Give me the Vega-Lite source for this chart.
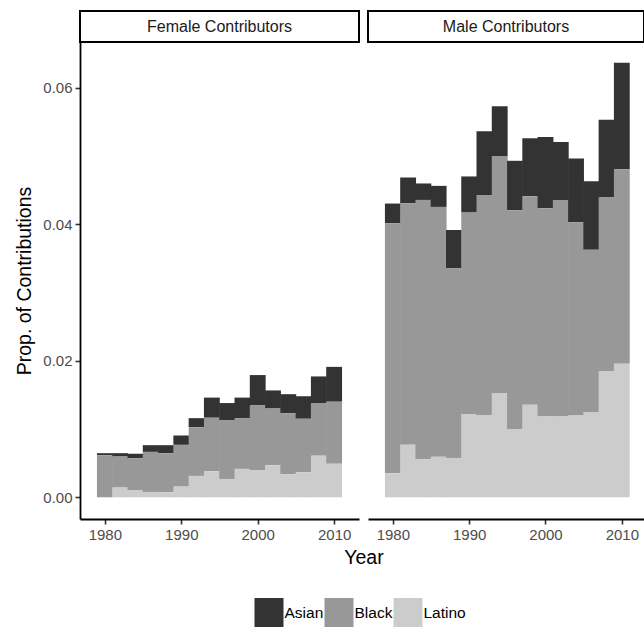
{
  "$schema": "https://vega.github.io/schema/vega-lite/v6.json",
  "padding": {"left": 14, "top": 10, "right": 0, "bottom": 0},
  "config": {
    "font": "Liberation Sans",
    "view": {"stroke": null},
    "concat": {"spacing": 9},
    "axis": {"grid": false, "domainColor": "#000000", "domainWidth": 1.8, "tickColor": "#333333", "tickWidth": 1.6, "tickSize": 5, "labelFontSize": 15, "labelColor": "#4D4D4D", "labelPadding": 3, "titleFontSize": 19.5, "titleFontWeight": "normal", "titleColor": "#000000"}
  },
  "datasets": {
    "strips": [{"panel": "Female Contributors"}, {"panel": "Male Contributors"}],
    "contrib": [
      {"gender": "Female Contributors", "year": 1980, "race": "Asian", "value": 0.0003},
      {"gender": "Female Contributors", "year": 1980, "race": "Black", "value": 0.00616},
      {"gender": "Female Contributors", "year": 1980, "race": "Latino", "value": 0.0},
      {"gender": "Female Contributors", "year": 1982, "race": "Asian", "value": 0.00049},
      {"gender": "Female Contributors", "year": 1982, "race": "Black", "value": 0.00455},
      {"gender": "Female Contributors", "year": 1982, "race": "Latino", "value": 0.00142},
      {"gender": "Female Contributors", "year": 1984, "race": "Asian", "value": 0.00064},
      {"gender": "Female Contributors", "year": 1984, "race": "Black", "value": 0.00474},
      {"gender": "Female Contributors", "year": 1984, "race": "Latino", "value": 0.00098},
      {"gender": "Female Contributors", "year": 1986, "race": "Asian", "value": 0.00098},
      {"gender": "Female Contributors", "year": 1986, "race": "Black", "value": 0.00587},
      {"gender": "Female Contributors", "year": 1986, "race": "Latino", "value": 0.00078},
      {"gender": "Female Contributors", "year": 1988, "race": "Asian", "value": 0.00117},
      {"gender": "Female Contributors", "year": 1988, "race": "Black", "value": 0.00573},
      {"gender": "Female Contributors", "year": 1988, "race": "Latino", "value": 0.00073},
      {"gender": "Female Contributors", "year": 1990, "race": "Asian", "value": 0.00137},
      {"gender": "Female Contributors", "year": 1990, "race": "Black", "value": 0.00611},
      {"gender": "Female Contributors", "year": 1990, "race": "Latino", "value": 0.00157},
      {"gender": "Female Contributors", "year": 1992, "race": "Asian", "value": 0.00132},
      {"gender": "Female Contributors", "year": 1992, "race": "Black", "value": 0.00714},
      {"gender": "Female Contributors", "year": 1992, "race": "Latino", "value": 0.00313},
      {"gender": "Female Contributors", "year": 1994, "race": "Asian", "value": 0.00295},
      {"gender": "Female Contributors", "year": 1994, "race": "Black", "value": 0.00785},
      {"gender": "Female Contributors", "year": 1994, "race": "Latino", "value": 0.0038},
      {"gender": "Female Contributors", "year": 1996, "race": "Asian", "value": 0.00255},
      {"gender": "Female Contributors", "year": 1996, "race": "Black", "value": 0.00856},
      {"gender": "Female Contributors", "year": 1996, "race": "Latino", "value": 0.00269},
      {"gender": "Female Contributors", "year": 1998, "race": "Asian", "value": 0.003},
      {"gender": "Female Contributors", "year": 1998, "race": "Black", "value": 0.00744},
      {"gender": "Female Contributors", "year": 1998, "race": "Latino", "value": 0.00416},
      {"gender": "Female Contributors", "year": 2000, "race": "Asian", "value": 0.00445},
      {"gender": "Female Contributors", "year": 2000, "race": "Black", "value": 0.00945},
      {"gender": "Female Contributors", "year": 2000, "race": "Latino", "value": 0.004},
      {"gender": "Female Contributors", "year": 2002, "race": "Asian", "value": 0.00265},
      {"gender": "Female Contributors", "year": 2002, "race": "Black", "value": 0.0083},
      {"gender": "Female Contributors", "year": 2002, "race": "Latino", "value": 0.0047},
      {"gender": "Female Contributors", "year": 2004, "race": "Asian", "value": 0.0028},
      {"gender": "Female Contributors", "year": 2004, "race": "Black", "value": 0.00893},
      {"gender": "Female Contributors", "year": 2004, "race": "Latino", "value": 0.00337},
      {"gender": "Female Contributors", "year": 2006, "race": "Asian", "value": 0.0033},
      {"gender": "Female Contributors", "year": 2006, "race": "Black", "value": 0.00783},
      {"gender": "Female Contributors", "year": 2006, "race": "Latino", "value": 0.00367},
      {"gender": "Female Contributors", "year": 2008, "race": "Asian", "value": 0.0039},
      {"gender": "Female Contributors", "year": 2008, "race": "Black", "value": 0.0077},
      {"gender": "Female Contributors", "year": 2008, "race": "Latino", "value": 0.0061},
      {"gender": "Female Contributors", "year": 2010, "race": "Asian", "value": 0.0051},
      {"gender": "Female Contributors", "year": 2010, "race": "Black", "value": 0.0091},
      {"gender": "Female Contributors", "year": 2010, "race": "Latino", "value": 0.0049},
      {"gender": "Male Contributors", "year": 1980, "race": "Asian", "value": 0.00289},
      {"gender": "Male Contributors", "year": 1980, "race": "Black", "value": 0.03661},
      {"gender": "Male Contributors", "year": 1980, "race": "Latino", "value": 0.00352},
      {"gender": "Male Contributors", "year": 1982, "race": "Asian", "value": 0.00377},
      {"gender": "Male Contributors", "year": 1982, "race": "Black", "value": 0.03539},
      {"gender": "Male Contributors", "year": 1982, "race": "Latino", "value": 0.00768},
      {"gender": "Male Contributors", "year": 1984, "race": "Asian", "value": 0.00241},
      {"gender": "Male Contributors", "year": 1984, "race": "Black", "value": 0.03797},
      {"gender": "Male Contributors", "year": 1984, "race": "Latino", "value": 0.00558},
      {"gender": "Male Contributors", "year": 1986, "race": "Asian", "value": 0.00308},
      {"gender": "Male Contributors", "year": 1986, "race": "Black", "value": 0.03661},
      {"gender": "Male Contributors", "year": 1986, "race": "Latino", "value": 0.00592},
      {"gender": "Male Contributors", "year": 1988, "race": "Asian", "value": 0.00563},
      {"gender": "Male Contributors", "year": 1988, "race": "Black", "value": 0.02775},
      {"gender": "Male Contributors", "year": 1988, "race": "Latino", "value": 0.00577},
      {"gender": "Male Contributors", "year": 1990, "race": "Asian", "value": 0.00529},
      {"gender": "Male Contributors", "year": 1990, "race": "Black", "value": 0.02951},
      {"gender": "Male Contributors", "year": 1990, "race": "Latino", "value": 0.01219},
      {"gender": "Male Contributors", "year": 1992, "race": "Asian", "value": 0.00931},
      {"gender": "Male Contributors", "year": 1992, "race": "Black", "value": 0.03231},
      {"gender": "Male Contributors", "year": 1992, "race": "Latino", "value": 0.01198},
      {"gender": "Male Contributors", "year": 1994, "race": "Asian", "value": 0.0073},
      {"gender": "Male Contributors", "year": 1994, "race": "Black", "value": 0.0347},
      {"gender": "Male Contributors", "year": 1994, "race": "Latino", "value": 0.01527},
      {"gender": "Male Contributors", "year": 1996, "race": "Asian", "value": 0.00724},
      {"gender": "Male Contributors", "year": 1996, "race": "Black", "value": 0.03205},
      {"gender": "Male Contributors", "year": 1996, "race": "Latino", "value": 0.00999},
      {"gender": "Male Contributors", "year": 1998, "race": "Asian", "value": 0.00847},
      {"gender": "Male Contributors", "year": 1998, "race": "Black", "value": 0.03055},
      {"gender": "Male Contributors", "year": 1998, "race": "Latino", "value": 0.01355},
      {"gender": "Male Contributors", "year": 2000, "race": "Asian", "value": 0.01043},
      {"gender": "Male Contributors", "year": 2000, "race": "Black", "value": 0.03049},
      {"gender": "Male Contributors", "year": 2000, "race": "Latino", "value": 0.01184},
      {"gender": "Male Contributors", "year": 2002, "race": "Asian", "value": 0.00848},
      {"gender": "Male Contributors", "year": 2002, "race": "Black", "value": 0.03171},
      {"gender": "Male Contributors", "year": 2002, "race": "Latino", "value": 0.01184},
      {"gender": "Male Contributors", "year": 2004, "race": "Asian", "value": 0.00935},
      {"gender": "Male Contributors", "year": 2004, "race": "Black", "value": 0.0283},
      {"gender": "Male Contributors", "year": 2004, "race": "Latino", "value": 0.01198},
      {"gender": "Male Contributors", "year": 2006, "race": "Asian", "value": 0.01006},
      {"gender": "Male Contributors", "year": 2006, "race": "Black", "value": 0.02376},
      {"gender": "Male Contributors", "year": 2006, "race": "Latino", "value": 0.01248},
      {"gender": "Male Contributors", "year": 2008, "race": "Asian", "value": 0.01139},
      {"gender": "Male Contributors", "year": 2008, "race": "Black", "value": 0.02547},
      {"gender": "Male Contributors", "year": 2008, "race": "Latino", "value": 0.01844},
      {"gender": "Male Contributors", "year": 2010, "race": "Asian", "value": 0.01557},
      {"gender": "Male Contributors", "year": 2010, "race": "Black", "value": 0.02849},
      {"gender": "Male Contributors", "year": 2010, "race": "Latino", "value": 0.01957}
    ]
  },
  "columns": 2,
  "align": "each",
  "bounds": "flush",
  "spacing": {"row": 0, "column": 9},
  "concat": [
    {
      "data": {"name": "strips"},
      "transform": [{"filter": "datum.panel === 'Female Contributors'"}],
      "width": 279,
      "height": 31,
      "view": {"stroke": "#000000", "strokeWidth": 2, "fill": "#FFFFFF"},
      "mark": {"type": "text", "fontSize": 16, "color": "#1A1A1A"},
      "encoding": {"text": {"field": "panel"}}
    },
    {
      "data": {"name": "strips"},
      "transform": [{"filter": "datum.panel === 'Male Contributors'"}],
      "width": 276,
      "height": 31,
      "view": {"stroke": "#000000", "strokeWidth": 2, "fill": "#FFFFFF"},
      "mark": {"type": "text", "fontSize": 16, "color": "#1A1A1A"},
      "encoding": {"text": {"field": "panel"}}
    },
    {
      "data": {"name": "contrib"},
      "transform": [{"filter": "datum.gender === 'Female Contributors'"}],
      "width": 279,
      "height": 477,
      "mark": {"type": "bar", "width": 15.85},
      "encoding": {
        "x": {"field": "year", "type": "quantitative", "scale": {"domain": [1977.4, 2012.6], "nice": false, "zero": false},
              "axis": {"values": [1980, 1990, 2000, 2010], "format": "d", "title": "Year", "titleX": 283.5, "titlePadding": 6}},
        "y": {"field": "value", "type": "quantitative", "stack": "zero", "scale": {"domain": [-0.00318, 0.06668], "nice": false, "zero": false},
              "axis": {"values": [0, 0.02, 0.04, 0.06], "format": ".2f", "title": "Prop. of Contributions", "titlePadding": 8}},
        "color": {"field": "race", "type": "nominal", "scale": {"domain": ["Asian", "Black", "Latino"], "range": ["#333333", "#989898", "#CCCCCC"]},
                  "legend": {"orient": "none", "legendX": 174.5, "legendY": 587, "direction": "horizontal", "title": null, "symbolType": "square", "symbolSize": 841, "symbolStrokeWidth": 0, "symbolOpacity": 1, "labelFontSize": 15.5, "labelColor": "#000000", "labelOffset": 1, "columnPadding": 1, "padding": 0}},
        "order": {"field": "race", "sort": "descending"}
      }
    },
    {
      "data": {"name": "contrib"},
      "transform": [{"filter": "datum.gender === 'Male Contributors'"}],
      "width": 276,
      "height": 477,
      "mark": {"type": "bar", "width": 15.85},
      "encoding": {
        "x": {"field": "year", "type": "quantitative", "scale": {"domain": [1977.4, 2012.25], "nice": false, "zero": false},
              "axis": {"values": [1980, 1990, 2000, 2010], "format": "d", "title": null}},
        "y": {"field": "value", "type": "quantitative", "stack": "zero", "scale": {"domain": [-0.00318, 0.06668], "nice": false, "zero": false}, "axis": null},
        "color": {"field": "race", "type": "nominal", "scale": {"domain": ["Asian", "Black", "Latino"], "range": ["#333333", "#989898", "#CCCCCC"]}},
        "order": {"field": "race", "sort": "descending"}
      }
    }
  ]
}
